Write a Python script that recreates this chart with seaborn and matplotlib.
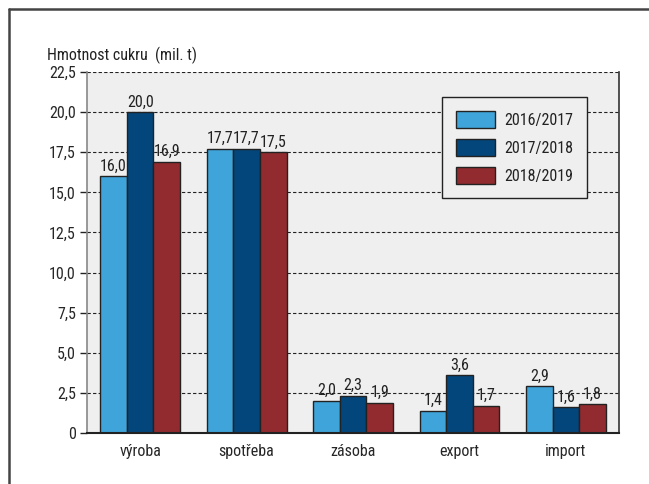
import numpy as np
import pandas as pd
from matplotlib import pyplot as plt
from matplotlib.lines import Line2D
import seaborn as sns

kategorie = ['výroba', 'spotřeba', 'zásoba', 'export', 'import']
obdobi = ['2016/2017', '2017/2018', '2018/2019']
h_2016 = [16.0, 17.7, 2.0, 1.4, 2.9]
h_2017 = [20.0, 17.7, 2.3, 3.6, 1.6]
h_2018 = [16.9, 17.5, 1.9, 1.7, 1.8]
y_ticks = [0, 2.5, 5.0, 7.5, 10.0, 12.5, 15.0, 17.5, 20.0, 22.5]

barvy = ['#3fa4d9', '#03467b', '#922b2f']

df = pd.DataFrame({
    'kategorie': kategorie * 3,
    'obdobi': [o for o in obdobi for _ in kategorie],
    'hodnota': h_2016 + h_2017 + h_2018,
})


def fmt(v):
    return f"{v:.1f}".replace('.', ',')


sns.set_theme(style='white')
plt.rcParams['font.family'] = ['Roboto Condensed', 'Archivo Narrow', 'DejaVu Sans']
plt.rcParams['text.color'] = '#222222'
FS = 11.5

fig = plt.figure(figsize=(6.49, 4.84), dpi=100)
ax = fig.add_axes([0.134, 0.1054, 0.820, 0.7458])
ax.set_facecolor('#eeefee')

sns.barplot(data=df, x='kategorie', y='hodnota', hue='obdobi',
            palette=barvy, saturation=1, width=0.75,
            edgecolor='#222222', linewidth=1.0, ax=ax)

for cont in ax.containers:
    ax.bar_label(cont, labels=[fmt(b.get_height()) for b in cont],
                 padding=2, fontsize=FS, color='#222222')

ax.set_ylim(0, 22.5)
ax.set_xlim(-0.5, len(kategorie) - 0.5)
ax.set_yticks(y_ticks)
ax.set_yticklabels(['0' if t == 0 else fmt(t) for t in y_ticks], fontsize=FS)
ax.set_xticks(range(len(kategorie)))
ax.set_xticklabels(kategorie, fontsize=FS)
ax.set_xticks(np.arange(-0.5, len(kategorie)), minor=True)
ax.tick_params(axis='x', which='major', length=0, pad=8)
ax.tick_params(axis='x', which='minor', length=10, width=1, color='#444444', direction='out')
ax.tick_params(axis='y', length=5, width=1, color='#222222', direction='out', left=True, pad=3)
ax.set_xlabel('')
ax.set_ylabel('')

ax.yaxis.grid(True, linestyle=(0, (3, 2)), color='#222222', linewidth=0.8)
ax.set_axisbelow(True)

ax.spines['top'].set_visible(False)
ax.spines['left'].set_color('#888888')
ax.spines['left'].set_linewidth(1.2)
ax.spines['right'].set_color('#333333')
ax.spines['right'].set_linewidth(1.2)
ax.spines['bottom'].set_color('#222222')
ax.spines['bottom'].set_linewidth(1.5)

leg = ax.legend(loc='upper left', bbox_to_anchor=(0.667, 0.931), fontsize=FS,
                frameon=True, fancybox=False, framealpha=1, facecolor='#eeefee',
                edgecolor='#222222', handlelength=2.45, handleheight=1.3,
                handletextpad=0.6, labelspacing=0.68, borderpad=0.85,
                borderaxespad=0)
leg.get_frame().set_linewidth(1.0)

fig.text(47 / 649, 1 - 55 / 484, 'Hmotnost cukru  (mil. t)', fontsize=FS,
         ha='left', va='center', color='#222222')

fig.add_artist(Line2D([9 / 649, 1], [1 - 9 / 484, 1 - 9 / 484], color='#444444', linewidth=1.8))
fig.add_artist(Line2D([9 / 649, 9 / 649], [0, 1 - 9 / 484], color='#444444', linewidth=1.8))

plt.savefig('out.png', dpi=100)
